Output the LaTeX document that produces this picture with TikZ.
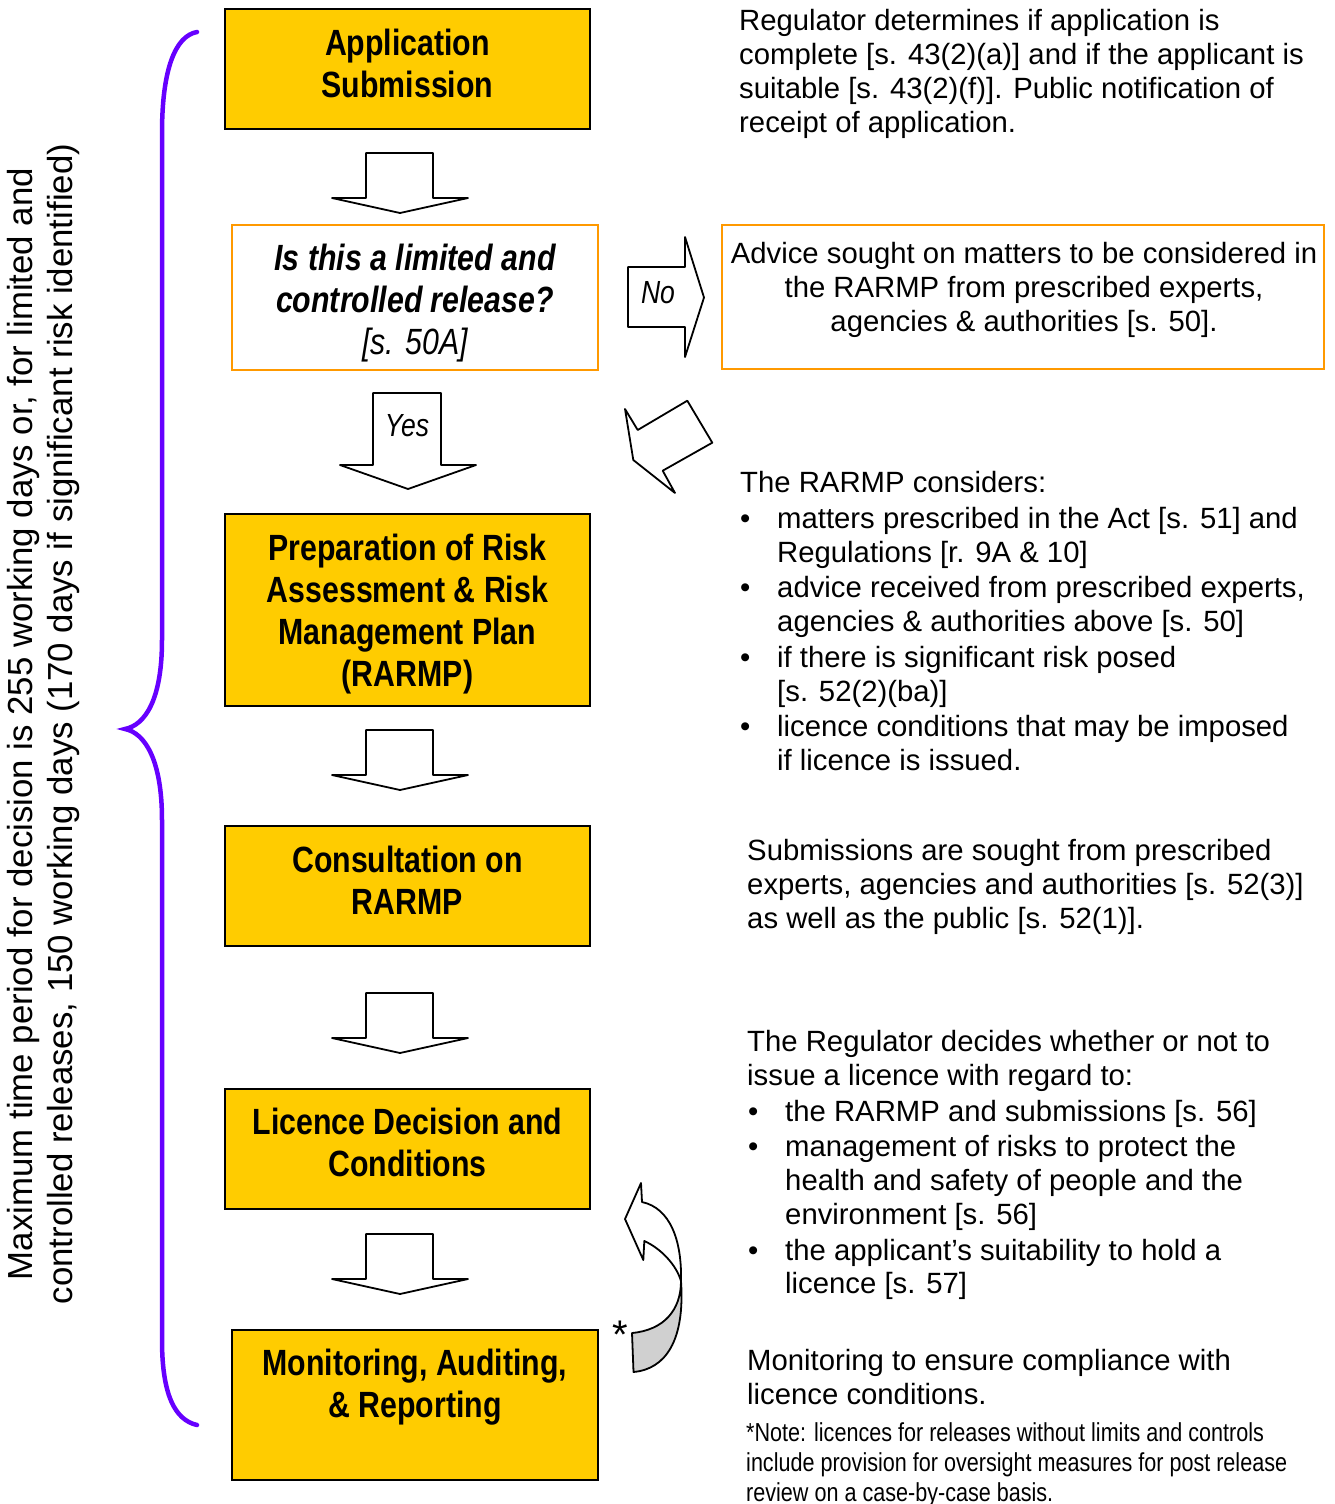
\documentclass[tikz,border=0pt]{standalone}
\usepackage{fontspec}
\setmainfont{Liberation Sans}
\newfontfamily\narrowfont{Liberation Sans}[FakeStretch=0.83]
\definecolor{boxyellow}{HTML}{FFCC00}
\definecolor{boxorange}{HTML}{FF9900}
\definecolor{bracepurple}{HTML}{6600FF}
\definecolor{backgrey}{HTML}{D0D0D0}
\newcommand\boxfont{\narrowfont\bfseries\fontsize{36.5}{42}\selectfont}
\newcommand\bodyfont{\fontsize{29.3}{33.7}\selectfont}
\newcommand\notefont{\narrowfont\fontsize{26}{30}\selectfont}
\newcommand\mytl[4]{\node[txt] (#1) at (#2,#3) {#4};}
\newcommand\mynl[4]{\node[txt,font=\notefont] (#1) at (#2,#3) {#4};}
\newcommand\mybul[3]{\node[txt] (#1) at (#2,#3) {•};}
\newcommand\downblock[2]{%
  \draw[blockarrow] (#1-34,#2) -- (#1+33,#2) -- (#1+33,#2+45) -- (#1+68,#2+45)
    -- (#1,#2+60) -- (#1-68,#2+45) -- (#1-34,#2+45) -- cycle;}
\begin{document}
\begin{tikzpicture}[x=1pt,y=-1pt,
  ybox/.style={draw=black, line width=2pt, fill=boxyellow, inner sep=0pt},
  obox/.style={draw=boxorange, line width=2.5pt, fill=white, inner sep=0pt},
  boxtext/.style={align=center, inner sep=0pt, font=\boxfont},
  txt/.style={anchor=base west, inner sep=0pt, font=\bodyfont},
  blockarrow/.style={draw=black, line width=1.8pt, fill=white, line join=round},
]
\useasboundingbox (0,0) rectangle (1335,1504);

% ---------- main boxes ----------
\node[ybox, minimum width=365pt, minimum height=120pt] (sub) at (407.5,69) {};
\node[boxtext] (subtext) at (407.5,63) {Application\\Submission};
\node[obox, minimum width=366pt, minimum height=145pt] (lim) at (415,297.5) {};
\node[boxtext] (limtext) at (415,303.5)
  {\itshape Is this a limited and\\\itshape controlled release?\\\mdseries\itshape [s. 50A]};
\node[ybox, minimum width=365pt, minimum height=192pt] (prep) at (407.5,610) {};
\node[boxtext] (preptext) at (407.5,614)
  {Preparation of Risk\\Assessment \& Risk\\Management Plan\\(RARMP)};
\node[ybox, minimum width=365pt, minimum height=120pt] (cons) at (407.5,886) {};
\node[boxtext] (constext) at (407.5,880) {Consultation on\\RARMP};
\node[ybox, minimum width=365pt, minimum height=120pt] (lic) at (407.5,1149) {};
\node[boxtext] (lictext) at (407.5,1142) {Licence Decision and\\Conditions};
\node[ybox, minimum width=366pt, minimum height=150pt] (mon) at (415,1405) {};
\node[boxtext] (montext) at (415,1387) {Monitoring, Auditing,\\\& Reporting};

\node[obox, minimum width=602pt, minimum height=144pt] (adv) at (1023,297) {};
\node[align=center, inner sep=0pt, font=\bodyfont] (advtext) at (1024,290)
  {Advice sought on matters to be considered in\\the RARMP from prescribed experts,\\agencies \& authorities [s. 50].};

% ---------- block arrows ----------
\downblock{400}{153}
\downblock{400}{730}
\downblock{400}{993}
\downblock{400}{1234}
% Yes arrow
\draw[blockarrow] (373,393) -- (441,393) -- (441,465) -- (476,465) -- (408,489)
  -- (340,465) -- (373,465) -- cycle;
\node[font=\narrowfont\itshape\fontsize{32}{36}\selectfont, inner sep=0pt] (yes) at (407,426) {Yes};
% No arrow
\draw[blockarrow] (628,267) -- (685,267) -- (685,237) -- (704,297.5) -- (685,357)
  -- (685,327) -- (628,327) -- cycle;
\node[font=\narrowfont\itshape\fontsize{32}{36}\selectfont, inner sep=0pt] (no) at (658,293) {No};
% diagonal arrow
\draw[blockarrow] (625,409) -- (637.7,430) -- (687.3,400.7) -- (712.3,442.7)
  -- (662.7,470.7) -- (675,493) -- (633.3,460) -- cycle;

% curved arrow
\coordinate (cx) at (681,1281);
\draw[line width=1.8pt, fill=backgrey, line join=round]
  (cx) .. controls (681,1310) and (664,1330) .. (632,1333)
  -- (633.5,1372) .. controls (666,1369) and (685,1340) .. (cx);
\draw[line width=1.8pt, fill=white, line join=round]
  (644.3,1241) .. controls (660,1248) and (676,1264) .. (cx)
  .. controls (682,1240) and (670,1208) .. (642,1202)
  -- (641,1183) -- (625,1219) -- (643.3,1260) -- cycle;
\node[anchor=base, inner sep=0pt, font=\fontsize{40}{42}\selectfont] (ast) at (620,1348) {*};

% ---------- brace ----------
\draw[bracepurple, line width=4.5pt, line cap=round]
  (197,32) .. controls (175,36) and (162,70) .. (162,133) -- (162,640)
  .. controls (162,700) and (145,725) .. (125,729)
  .. controls (145,733) and (162,760) .. (162,820) -- (162,1340)
  .. controls (162,1395) and (175,1420) .. (197,1425);

\node[rotate=90, align=center, inner sep=0pt, font=\fontsize{34.8}{40}\selectfont] (period) at (44,724)
  {Maximum time period for decision is 255 working days or, for limited and\\
   controlled releases, 150 working days (170 days if significant risk identified)};

% ---------- right-hand texts ----------
\mytl{r1}{739}{31}{Regulator determines if application is}
\mytl{r2}{739}{65}{complete [s. 43(2)(a)] and if the applicant is}
\mytl{r3}{739}{98}{suitable [s. 43(2)(f)]. Public notification of}
\mytl{r4}{739}{132}{receipt of application.}

\mytl{c0}{740}{492}{The RARMP considers:}
\mybul{cb1}{740}{528}
\mytl{c1}{777}{528}{matters prescribed in the Act [s. 51] and}
\mytl{c2}{777}{562}{Regulations [r. 9A \& 10]}
\mybul{cb2}{740}{597}
\mytl{c3}{777}{597}{advice received from prescribed experts,}
\mytl{c4}{777}{631}{agencies \& authorities above [s. 50]}
\mybul{cb3}{740}{667}
\mytl{c5}{777}{667}{if there is significant risk posed}
\mytl{c6}{777}{701}{[s. 52(2)(ba)]}
\mybul{cb4}{740}{736}
\mytl{c7}{777}{736}{licence conditions that may be imposed}
\mytl{c8}{777}{770}{if licence is issued.}

\mytl{s1}{747}{860}{Submissions are sought from prescribed}
\mytl{s2}{747}{894}{experts, agencies and authorities [s. 52(3)]}
\mytl{s3}{747}{928}{as well as the public [s. 52(1)].}

\mytl{d1}{747}{1051}{The Regulator decides whether or not to}
\mytl{d2}{747}{1085}{issue a licence with regard to:}
\mybul{db1}{748}{1121}
\mytl{d3}{785}{1121}{the RARMP and submissions [s. 56]}
\mybul{db2}{748}{1156}
\mytl{d4}{785}{1156}{management of risks to protect the}
\mytl{d5}{785}{1190}{health and safety of people and the}
\mytl{d6}{785}{1224}{environment [s. 56]}
\mybul{db3}{748}{1260}
\mytl{d7}{785}{1260}{the applicant’s suitability to hold a}
\mytl{d8}{785}{1293}{licence [s. 57]}

\mytl{m1}{747}{1370}{Monitoring to ensure compliance with}
\mytl{m2}{747}{1404}{licence conditions.}
\mynl{n1}{746}{1441}{*Note: licences for releases without limits and controls}
\mynl{n2}{746}{1471}{include provision for oversight measures for post release}
\mynl{n3}{746}{1501}{review on a case-by-case basis.}
\end{tikzpicture}
\end{document}
